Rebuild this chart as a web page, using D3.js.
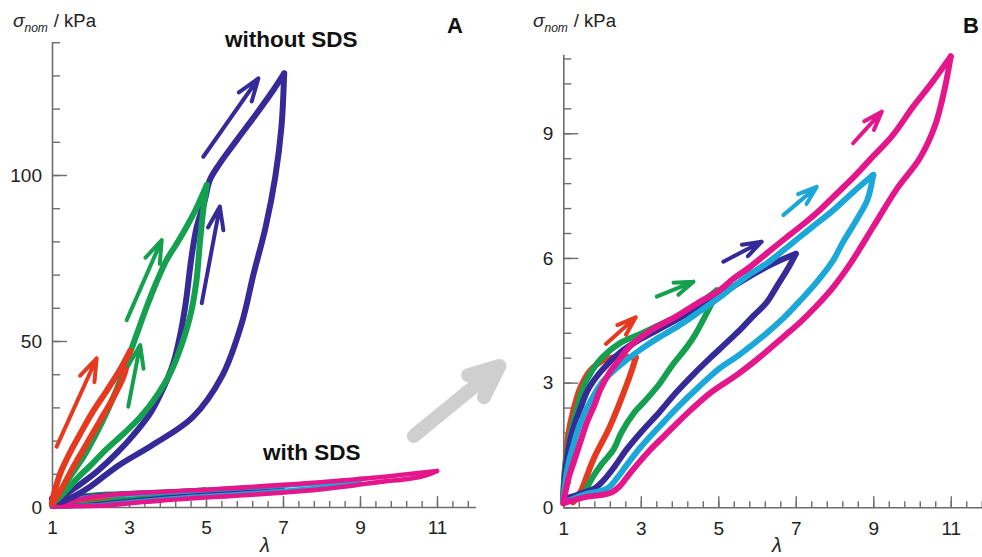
<!DOCTYPE html>
<html><head><meta charset="utf-8">
<script src="https://cdn.jsdelivr.net/npm/d3@7"></script>
<style>
body{margin:0;background:#fff}
svg{display:block}
text{font-family:Arial,"Liberation Sans",Helvetica,sans-serif}
</style>
</head><body>
<svg id="chart" width="982" height="557"></svg>
<script>
// ---------- tick labels ----------
const lambdaTicks = [1, 3, 5, 7, 9, 11];
const sigmaTicksA = [0, 50, 100];
const sigmaTicksB = [0, 3, 6, 9];

// ---------- panel A : without SDS (λ, σnom kPa) – loading then unloading ----------
const loopA_red = [[1.0,1.5],[1.1,6],[1.21,10],[1.45,16],[1.73,22],[2.05,28.5],[2.42,35],[2.75,41],[3.03,47],
  [2.95,43],[2.85,39],[2.55,32],[2.25,26],[1.9,19],[1.55,12],[1.3,6.5],[1.1,2.5],[1.0,1]];
const loopA_green = [[1.0,1],[1.15,3.5],[1.29,6],[1.55,10.5],[1.81,15],[2.1,21],[2.42,28.5],[2.7,36],[2.95,44],[3.2,52],[3.45,60],[3.67,66.5],[3.98,74.5],[4.25,79.5],[4.5,84.5],[4.75,90],[5.02,97],
  [4.93,89.5],[4.84,79.4],[4.75,68],[4.6,58],[4.4,50],[4.1,41],[3.75,34],[3.29,27],[2.85,22],[2.42,17.5],[2.0,12.5],[1.73,9.5],[1.45,6],[1.2,3],[1.0,1]];
const loopA_blue = [[1.0,2.5],[1.21,3.1],[1.5,5],[1.81,7.5],[2.2,11],[2.68,16.2],[3.1,21.5],[3.55,28.2],[3.9,36],[4.15,43.3],[4.35,53],[4.48,62],[4.62,75],[4.76,84.4],[4.97,92.5],[5.1,98.5],[5.36,103.5],[5.8,110.5],[6.32,118.6],[6.75,125.6],[7.03,130.6],
  [6.96,114.5],[6.8,99.5],[6.55,84.4],[6.24,70.4],[5.92,55],[5.42,39.5],[4.65,27],[3.6,18.6],[2.7,12.3],[1.99,6.1],[1.55,3.1],[1.2,1.5],[1.0,2.5]];

// ---------- with SDS (λ, σnom kPa) – loading then unloading ----------
const loopB_red = [[1.0,0.3],[1.05,1.0],[1.12,1.7],[1.26,2.34],[1.45,2.9],[1.7,3.3],[2.0,3.52],[2.4,3.62],[2.87,3.6],
  [2.77,3.3],[2.55,2.74],[2.2,1.94],[1.77,1.14],[1.43,0.34],[1.25,0.12]];
const loopB_green = [[1.0,0.3],[1.04,0.9],[1.17,1.7],[1.34,2.34],[1.5,2.85],[1.75,3.3],[2.0,3.6],[2.46,3.95],[3.06,4.2],[3.5,4.4],[4.0,4.62],[4.5,4.9],[4.96,5.22],
  [4.85,4.95],[4.7,4.67],[4.4,4.15],[4.19,3.86],[3.8,3.4],[3.49,2.98],[3.1,2.55],[2.85,2.3],[2.5,1.8],[2.29,1.38],[2.0,1.05],[1.77,0.74],[1.6,0.45],[1.52,0.3],[1.3,0.2]];
const loopB_blue = [[1.0,0.2],[1.07,1.0],[1.2,1.7],[1.45,2.4],[1.65,2.85],[2.0,3.3],[2.5,3.75],[3.0,4.05],[3.5,4.3],[4.0,4.55],[4.5,4.82],[5.0,5.08],[5.5,5.38],[6.0,5.66],[6.5,5.9],[7.0,6.1],
  [6.8,5.75],[6.5,5.3],[6.25,4.93],[5.9,4.6],[5.56,4.27],[5.2,3.95],[4.8,3.6],[4.36,3.2],[3.9,2.75],[3.49,2.3],[3.0,1.8],[2.64,1.4],[2.3,0.95],[2.03,0.64],[1.8,0.45],[1.5,0.35],[1.2,0.25],[1.0,0.2]];
const loopB_cyan = [[1.0,0.15],[1.1,0.9],[1.26,1.5],[1.45,2.05],[1.73,2.6],[2.04,3.05],[2.64,3.55],[3.0,3.8],[3.49,4.1],[4.0,4.38],[4.53,4.72],[5.0,5.03],[5.39,5.31],[5.8,5.6],[6.25,5.87],[6.7,6.2],[7.11,6.51],[7.5,6.8],[7.97,7.15],[8.5,7.6],[9.0,8.0],
  [8.85,7.4],[8.57,6.92],[8.2,6.35],[7.97,5.95],[7.54,5.42],[7.11,4.97],[6.68,4.55],[6.25,4.19],[5.56,3.68],[5.0,3.32],[4.5,2.9],[4.0,2.45],[3.49,1.95],[3.0,1.45],[2.64,1.02],[2.4,0.72],[2.2,0.5],[2.0,0.4],[1.6,0.32],[1.3,0.22],[1.0,0.1]];
const loopB_magenta = [[1.0,0.1],[1.04,0.3],[1.15,0.75],[1.26,1.06],[1.45,1.6],[1.6,2.02],[1.8,2.45],[1.95,2.82],[2.2,3.25],[2.38,3.47],[2.6,3.75],[2.81,3.95],[3.24,4.25],[3.93,4.6],[4.53,4.95],[5.0,5.2],[5.39,5.5],[5.8,5.77],[6.25,6.11],[6.7,6.45],[7.11,6.75],[7.5,7.05],[7.97,7.47],[8.5,7.95],[8.91,8.36],[9.5,8.95],[10.03,9.64],[10.5,10.2],[11.0,10.85],
  [10.85,10.1],[10.6,9.2],[10.2,8.4],[9.6,7.65],[9.0,6.75],[8.4,5.85],[7.97,5.3],[7.54,4.85],[7.11,4.45],[6.68,4.1],[6.08,3.62],[5.5,3.2],[4.79,2.75],[4.3,2.35],[3.93,2.02],[3.5,1.62],[3.24,1.38],[2.9,1.02],[2.64,0.72],[2.45,0.5],[2.25,0.36],[2.0,0.3],[1.6,0.25],[1.3,0.18],[1.0,0.1]];

// ---------- direction arrows (data coordinates) ----------
const arrowsA = [
  {s:"red",   from:[1.12,18.2], to:[2.16,44.8]},
  {s:"green", from:[2.94,56.3], to:[3.85,80.4]},
  {s:"green", from:[2.98,30.2], to:[3.29,48.8]},
  {s:"blue",  from:[4.93,105.5], to:[6.36,129.1]},
  {s:"blue",  from:[4.89,61.4], to:[5.36,90.5]}
];
const arrowsB = [
  {s:"red",     from:[2.1,3.93],  to:[2.87,4.57]},
  {s:"green",   from:[3.41,5.07], to:[4.36,5.43]},
  {s:"blue",    from:[5.13,5.91], to:[6.12,6.39]},
  {s:"cyan",    from:[6.68,7.03], to:[7.54,7.71]},
  {s:"magenta", from:[8.48,8.76], to:[9.22,9.52]}
];
// big grey arrow linking A to B (panel A data coordinates)
const linkArrow = {tail:[10.4,21.4], tip:[12.62,42.5], arm1:[11.81,39.7], arm2:[12.22,33.1]};

// ---------- styles ----------
const colors = {red:"#e53a1f", green:"#15a04f", blue:"#362a98", cyan:"#1ba8d8", magenta:"#e4168b"};
const sdsLoops = [["red",loopB_red],["green",loopB_green],["blue",loopB_blue],["cyan",loopB_cyan],["magenta",loopB_magenta]];
const noSdsLoops = [["blue",loopA_blue],["green",loopA_green],["red",loopA_red]];

const svg = d3.select("#chart");

// scales
const xA = d3.scaleLinear().domain([1,12]).range([52,475.5]);
const yA = d3.scaleLinear().domain([0,140]).range([507,42.2]);
const xB = d3.scaleLinear().domain([1,12]).range([563.3,989.5]);
const yB = d3.scaleLinear().domain([0,10.9]).range([507.3,54.3]);

function drawAxes(x, y, yMajor, yMinorStep, yMax) {
  const g = svg.append("g");
  const x0 = x.range()[0], y0 = y.range()[0];
  g.append("g").attr("transform",`translate(0,${y0})`)
    .call(d3.axisBottom(x).tickValues(d3.range(1,12.01,0.4)).tickSize(-6).tickSizeOuter(0).tickFormat(""))
    .call(s=>s.select(".domain").remove());
  g.append("g").attr("transform",`translate(0,${y0})`)
    .call(d3.axisBottom(x).tickValues(lambdaTicks).tickSize(-11).tickSizeOuter(0).tickPadding(14).tickFormat(d3.format("d")))
    .call(s=>s.select(".domain").attr("stroke","#6d6d6d").attr("stroke-width",1.6));
  g.append("g").attr("transform",`translate(${x0},0)`)
    .call(d3.axisLeft(y).tickValues(d3.range(0,yMax+1e-6,yMinorStep)).tickSize(-8).tickSizeOuter(0).tickFormat(""))
    .call(s=>s.select(".domain").remove());
  g.append("g").attr("transform",`translate(${x0},0)`)
    .call(d3.axisLeft(y).tickValues(yMajor).tickSize(-15).tickSizeOuter(0).tickPadding(10).tickFormat(d3.format("d")))
    .call(s=>s.select(".domain").attr("stroke","#6d6d6d").attr("stroke-width",1.6));
  g.selectAll(".tick line").attr("stroke","#6d6d6d").attr("stroke-width",1.4);
  g.selectAll(".tick text").attr("font-size",19).attr("fill","#222")
    .attr("font-family","Arial, 'Liberation Sans', sans-serif");
  g.selectAll("g").attr("font-family",null).attr("font-size",null);
}

function drawLoops(x, y, loops, width) {
  const line = d3.line().x(d=>x(d[0])).y(d=>y(d[1])).curve(d3.curveCatmullRom.alpha(0.5));
  const g = svg.append("g");
  loops.forEach(([name, loop]) => {
    const i = d3.maxIndex(loop, d=>d[0]);
    [loop.slice(0,i+1), loop.slice(i)].forEach(br => {
      g.append("path").attr("d", line(br)).attr("fill","none")
        .attr("stroke", colors[name]).attr("stroke-width", width)
        .attr("stroke-linecap","round").attr("stroke-linejoin","round");
    });
  });
}

function drawArrows(x, y, arrows, width, L) {
  const g = svg.append("g");
  const h = 19*Math.PI/180;
  arrows.forEach(a => {
    const x1=x(a.from[0]), y1=y(a.from[1]), x2=x(a.to[0]), y2=y(a.to[1]);
    const ang = Math.atan2(y1-y2, x1-x2);
    const p = d3.path();
    p.moveTo(x1,y1); p.lineTo(x2,y2);
    p.moveTo(x2+L*Math.cos(ang+h), y2+L*Math.sin(ang+h));
    p.lineTo(x2,y2);
    p.lineTo(x2+L*Math.cos(ang-h), y2+L*Math.sin(ang-h));
    g.append("path").attr("d",p.toString()).attr("fill","none")
      .attr("stroke",colors[a.s]).attr("stroke-width",width)
      .attr("stroke-linecap","round").attr("stroke-linejoin","round");
  });
}

function yLabel(x0, y0) {
  const t = svg.append("text").attr("x",x0).attr("y",y0).attr("fill","#222");
  t.append("tspan").attr("font-style","italic").attr("font-size",19).text("σ");
  t.append("tspan").attr("font-style","italic").attr("font-size",12).attr("dy",5).text("nom");
  t.append("tspan").attr("font-size",18.5).attr("dy",-5).attr("dx",6).text("/ kPa");
}

// ---------- panel A ----------
drawAxes(xA, yA, sigmaTicksA, 10, 140);
drawLoops(xA, yA, sdsLoops, 4.6);
drawLoops(xA, yA, noSdsLoops, 6);
drawArrows(xA, yA, arrowsA, 4, 24);
yLabel(13, 27);
svg.append("text").attr("x",447).attr("y",33).attr("font-size",22).attr("font-weight","bold").attr("fill","#111").text("A");
svg.append("text").attr("x",225).attr("y",47).attr("font-size",22.5).attr("font-weight","bold").attr("fill","#111").text("without SDS");
svg.append("text").attr("x",263).attr("y",460).attr("font-size",22.5).attr("font-weight","bold").attr("fill","#111").text("with SDS");
svg.append("text").attr("x",265).attr("y",552).attr("text-anchor","middle").attr("font-size",20).attr("font-style","italic").attr("fill","#222").text("λ");

// grey link arrow
{
  const P = d => [xA(d[0]), yA(d[1])];
  const [t0,t1,a1,a2] = [P(linkArrow.tail),P(linkArrow.tip),P(linkArrow.arm1),P(linkArrow.arm2)];
  const p = d3.path();
  p.moveTo(...t0); p.lineTo(...t1);
  p.moveTo(...a1); p.lineTo(...t1); p.lineTo(...a2);
  svg.append("path").attr("d",p.toString()).attr("fill","none").attr("stroke","#cfcfcf")
    .attr("stroke-width",14).attr("stroke-linecap","round").attr("stroke-linejoin","round");
}

// ---------- panel B ----------
drawAxes(xB, yB, sigmaTicksB, 0.6, 10.8);
drawLoops(xB, yB, sdsLoops, 6);
drawArrows(xB, yB, arrowsB, 4, 20);
yLabel(533, 27);
svg.append("text").attr("x",963).attr("y",33).attr("font-size",22).attr("font-weight","bold").attr("fill","#111").text("B");
svg.append("text").attr("x",777).attr("y",552).attr("text-anchor","middle").attr("font-size",20).attr("font-style","italic").attr("fill","#222").text("λ");
</script>
</body></html>
